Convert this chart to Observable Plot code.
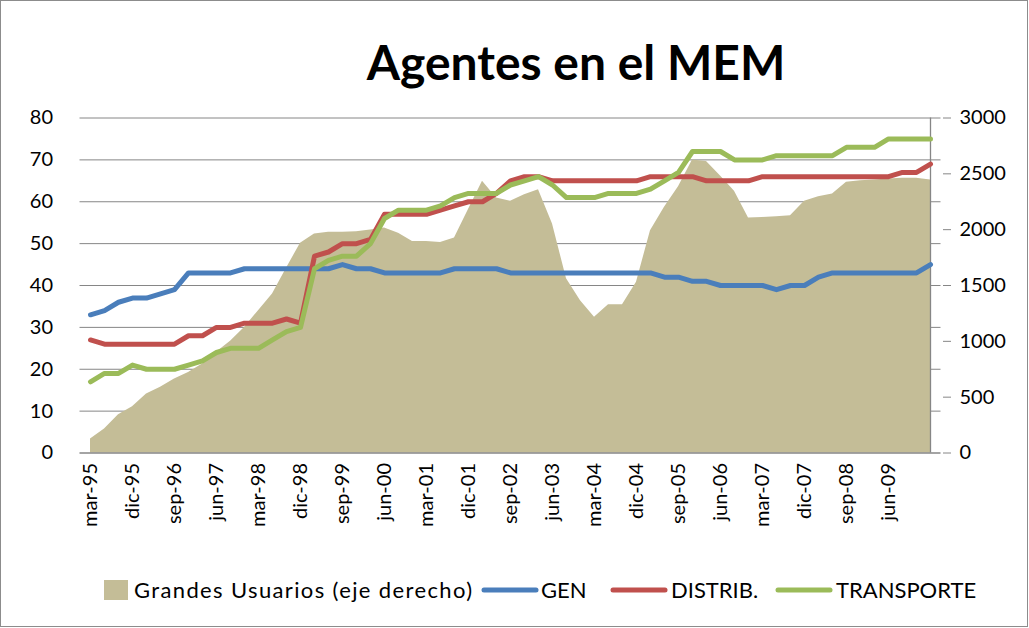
<!DOCTYPE html>
<html>
<head>
<meta charset="utf-8">
<script src="https://cdn.jsdelivr.net/npm/d3@7"></script>
<script src="https://cdn.jsdelivr.net/npm/@observablehq/plot@0.6"></script>
<style>
  html, body { margin: 0; padding: 0; background: #fff; }
  #wrap { position: relative; width: 1029px; height: 628px; overflow: hidden; font-family: Lato, "Open Sans", sans-serif; }
  #wrap > svg { position: absolute; left: 0; top: 0; }
  #frame { position: absolute; left: 0; top: 0; width: 1026px; height: 625px; border: 1px solid #8c8c8c; pointer-events: none; }
</style>
</head>
<body>
<div id="wrap"><div id="frame"></div></div>
<script>
// ---- data ----
const quarters = ["mar-95","jun-95","sep-95","dic-95","mar-96","jun-96","sep-96","dic-96","mar-97","jun-97","sep-97","dic-97","mar-98","jun-98","sep-98","dic-98","mar-99","jun-99","sep-99","dic-99","mar-00","jun-00","sep-00","dic-00","mar-01","jun-01","sep-01","dic-01","mar-02","jun-02","sep-02","dic-02","mar-03","jun-03","sep-03","dic-03","mar-04","jun-04","sep-04","dic-04","mar-05","jun-05","sep-05","dic-05","mar-06","jun-06","sep-06","dic-06","mar-07","jun-07","sep-07","dic-07","mar-08","jun-08","sep-08","dic-08","mar-09","jun-09","sep-09","dic-09","mar-10"];
const xTickLabels = ["mar-95","dic-95","sep-96","jun-97","mar-98","dic-98","sep-99","jun-00","mar-01","dic-01","sep-02","jun-03","mar-04","dic-04","sep-05","jun-06","mar-07","dic-07","sep-08","jun-09"];
const leftTicks = [0,10,20,30,40,50,60,70,80];
const rightTicks = [0,500,1000,1500,2000,2500,3000];

const gen = [33,34,36,37,37,38,39,43,43,43, 43,44,44,44,44,44,44,44,45,44, 44,43,43,43,43,43,44,44,44,44, 43,43,43,43,43,43,43,43,43,43, 43,42,42,41,41,40,40,40,40,39, 40,40,42,43,43,43,43,43,43,43, 45];
const distrib = [27,26,26,26,26,26,26,28,28,30, 30,31,31,31,32,31,47,48,50,50, 51,57,57,57,57,58,59,60,60,62, 65,66,66,65,65,65,65,65,65,65, 66,66,66,66,65,65,65,65,66,66, 66,66,66,66,66,66,66,66,67,67, 69];
const transporte = [17,19,19,21,20,20,20,21,22,24, 25,25,25,27,29,30,44,46,47,47, 50,56,58,58,58,59,61,62,62,62, 64,65,66,64,61,61,61,62,62,62, 63,65,67,72,72,72,70,70,70,71, 71,71,71,71,73,73,73,75,75,75, 75];
const grandesUsuarios = [125,215,343,415,528,588,663,722,797,902, 1000,1125,1275,1424,1655,1878,1961,1976,1976,1982, 1997,2015,1967,1893,1893,1884,1925,2180,2433,2283, 2254,2313,2358,2051,1560,1364,1215,1328,1328,1530, 1990,2200,2385,2624,2610,2480,2345,2104,2110,2116, 2125,2254,2295,2319,2424,2439,2445,2454,2460,2460, 2445];

const seriesNames = ["Grandes Usuarios (eje derecho)", "GEN", "DISTRIB.", "TRANSPORTE"];
const colors = {area: "#C4BD97", gen: "#4A7EBB", distrib: "#C0504D", transporte: "#9BBB59"};

// ---- derived tables ----
const leftMax = 80, rightMax = 3000, k = rightMax / leftMax;
const rows = quarters.map((q, i) => ({q, gen: gen[i], distrib: distrib[i], transporte: transporte[i], gu: grandesUsuarios[i] / k}));

const W = 1029, H = 628;
const lineOpts = {strokeWidth: 5, strokeLinecap: "round", strokeLinejoin: "round"};

const chart = Plot.plot({
  width: W, height: H,
  marginLeft: 79.5, marginRight: 88.5, marginTop: 117.5, marginBottom: 175.5,
  style: {fontFamily: "Lato, 'Open Sans', sans-serif", fontSize: "20px", color: "#000", background: "transparent"},
  x: {type: "point", domain: quarters, padding: 0},
  y: {domain: [0, leftMax]},
  marks: [
    Plot.ruleY(leftTicks.slice(1), {stroke: "#868686", strokeWidth: 1}),
    Plot.areaY(rows, {x: "q", y: "gu", fill: colors.area}),
    Plot.ruleY([0], {stroke: "#868686", strokeWidth: 1.3}),
    Plot.ruleX([quarters[quarters.length - 1]], {stroke: "#868686", strokeWidth: 1.3}),
    Plot.lineY(rows, {x: "q", y: "gen", stroke: colors.gen, ...lineOpts}),
    Plot.lineY(rows, {x: "q", y: "distrib", stroke: colors.distrib, ...lineOpts}),
    Plot.lineY(rows, {x: "q", y: "transporte", stroke: colors.transporte, ...lineOpts}),
    Plot.axisY(leftTicks, {anchor: "left", tickSize: 0, tickPadding: 27, fontSize: 20, label: null}),
    Plot.axisY(rightTicks.map(v => v / k), {anchor: "right", tickSize: 8, tickPadding: 9, stroke: "#868686", fontSize: 20, label: null, tickFormat: d => String(Math.round(d * k)), dx: 1.5}),
    Plot.axisX(xTickLabels, {anchor: "bottom", tickSize: 0, tickPadding: 10, tickRotate: -90, fontSize: 20, label: null})
  ]
});
document.getElementById("wrap").prepend(chart);

// ---- title & legend overlay ----
const ov = d3.select("#wrap").append("svg").attr("width", W).attr("height", H)
  .style("font-family", "Lato, 'Open Sans', sans-serif");
ov.append("text").attr("x", 576).attr("y", 80).attr("text-anchor", "middle")
  .attr("font-size", 48).attr("font-weight", "bold").attr("fill", "#000").text("Agentes en el MEM");

const lg = ov.append("g").attr("font-size", 22).attr("fill", "#000");
const legendItems = [
  {name: seriesNames[0], type: "rect", color: colors.area, sx: 104, tx: 134, len: 338},
  {name: seriesNames[1], type: "line", color: colors.gen, sx: 482, tx: 541},
  {name: seriesNames[2], type: "line", color: colors.distrib, sx: 611, tx: 671},
  {name: seriesNames[3], type: "line", color: colors.transporte, sx: 776, tx: 836}
];
const ly = 590;
for (const it of legendItems) {
  if (it.type === "rect") {
    lg.append("rect").attr("x", it.sx).attr("y", ly - 10).attr("width", 24).attr("height", 20).attr("fill", it.color);
  } else {
    lg.append("line").attr("x1", it.sx + 2).attr("x2", it.sx + 54).attr("y1", ly).attr("y2", ly)
      .attr("stroke", it.color).attr("stroke-width", 5).attr("stroke-linecap", "round");
  }
  const t = lg.append("text").attr("x", it.tx).attr("y", ly + 8).text(it.name);
  if (it.len) t.attr("textLength", it.len).attr("lengthAdjust", "spacing");
}
</script>
</body>
</html>
